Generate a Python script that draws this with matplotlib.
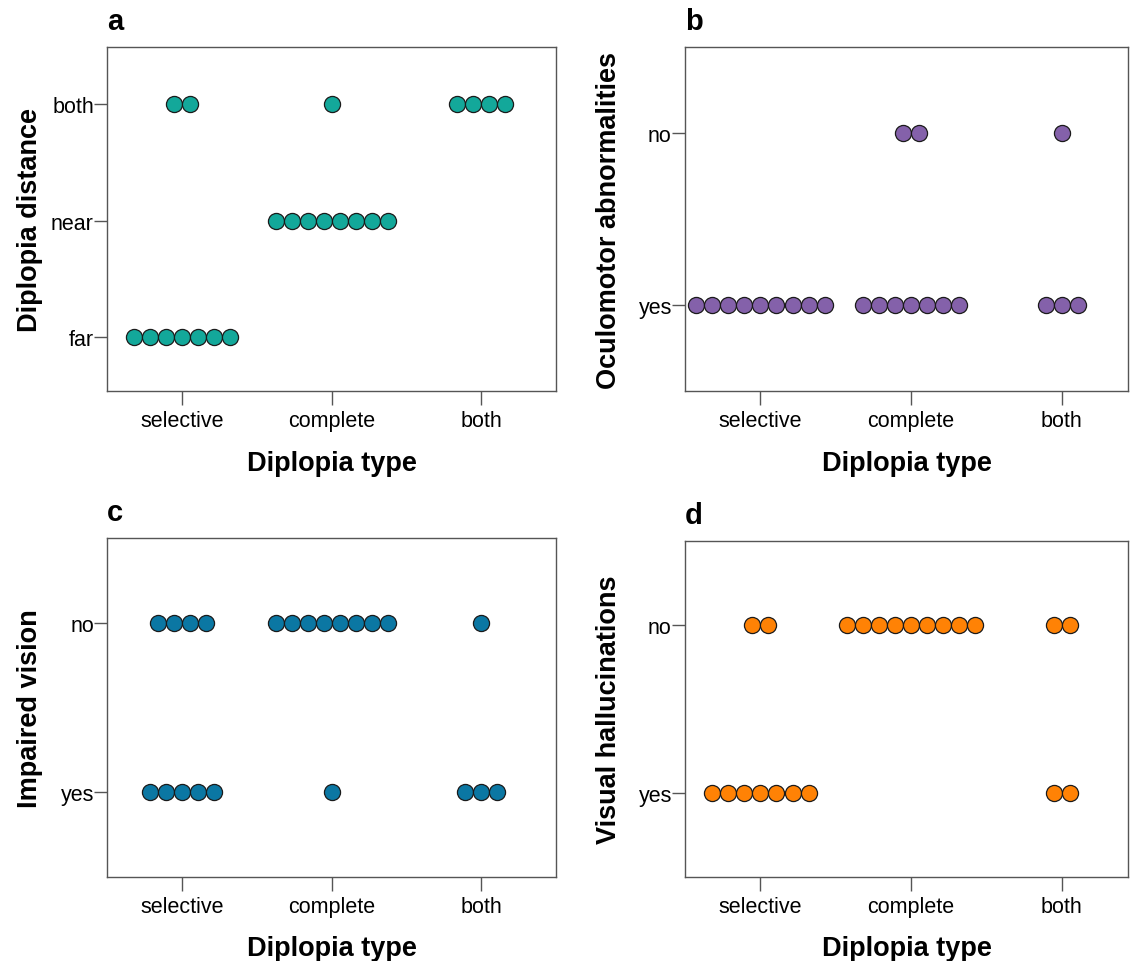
import matplotlib.pyplot as plt

plt.rcParams['font.family'] = ['Liberation Sans', 'DejaVu Sans']

# x categories (shared by all panels)
diplopia_types = ['selective', 'complete', 'both']

# a: diplopia distance, counts per type for levels (far, near, both)
distance_levels = ['far', 'near', 'both']
distance_counts = [[7, 0, 2], [0, 8, 1], [0, 0, 4]]

# b: oculomotor abnormalities, counts per type for levels (yes, no)
oculo_levels = ['yes', 'no']
oculo_counts = [[9, 0], [7, 2], [3, 1]]

# c: impaired vision
vision_levels = ['yes', 'no']
vision_counts = [[5, 4], [1, 8], [3, 1]]

# d: visual hallucinations
halluc_levels = ['yes', 'no']
halluc_counts = [[7, 2], [0, 9], [2, 2]]

panels = [
    ('a', 'Diplopia distance', distance_levels, distance_counts, '#13A89A'),
    ('b', 'Oculomotor abnormalities', oculo_levels, oculo_counts, '#8461AA'),
    ('c', 'Impaired vision', vision_levels, vision_counts, '#0B77A3'),
    ('d', 'Visual hallucinations', halluc_levels, halluc_counts, '#FF8205'),
]

# axes boxes in figure fraction [left, bottom, width, height]
boxes = [
    [0.0947, 0.5925, 0.3975, 0.3575],
    [0.6062, 0.5925, 0.3920, 0.3575],
    [0.0947, 0.0873, 0.3975, 0.3524],
    [0.6062, 0.0873, 0.3920, 0.3493],
]
xlims = [(-0.5, 2.5), (-0.5, 2.44), (-0.5, 2.5), (-0.5, 2.44)]
ylims = [(-0.46, 2.49), (-0.5, 1.5), (-0.5, 1.5), (-0.5, 1.5)]

step = 0.107
spine_col = '#555555'

fig = plt.figure(figsize=(11.3, 9.62), dpi=100, facecolor='white')

for (letter, ylab, levels, counts, col), box, xl, yl in zip(panels, boxes, xlims, ylims):
    ax = fig.add_axes(box)
    for i, row in enumerate(counts):
        for j, n in enumerate(row):
            if n == 0:
                continue
            xs = [i + (k - (n - 1) / 2.0) * step for k in range(n)]
            ax.plot(xs, [j] * n, 'o', ms=11.6, mfc=col, mec='#1a1a1a', mew=0.9,
                    clip_on=False, zorder=3)
    ax.set_xlim(*xl)
    ax.set_ylim(*yl)
    ax.set_xticks(range(len(diplopia_types)))
    ax.set_xticklabels(diplopia_types)
    ax.set_yticks(range(len(levels)))
    ax.set_yticklabels(levels)
    ax.tick_params(axis='x', length=10, width=1.0, color=spine_col, pad=4, labelsize=15.5)
    ax.tick_params(axis='y', length=9.5, width=1.0, color=spine_col, pad=0, labelsize=15.5)
    for s in ax.spines.values():
        s.set_color(spine_col)
        s.set_linewidth(1.0)
    ax.set_xlabel('Diplopia type', fontsize=19.5, fontweight='bold')
    ax.set_ylabel(ylab, fontsize=19.5, fontweight='bold')
    ax.xaxis.set_label_coords(0.5, -0.172)
    ax.xaxis.label.set_va('top')
    ax.yaxis.set_label_coords(-0.172, 0.5)
    ax.yaxis.label.set_va('center')
    ax.text(0.0, 1.035, letter, transform=ax.transAxes, fontsize=21,
            fontweight='bold', ha='left', va='bottom')

fig.savefig('out.png', dpi=100, facecolor='white')
